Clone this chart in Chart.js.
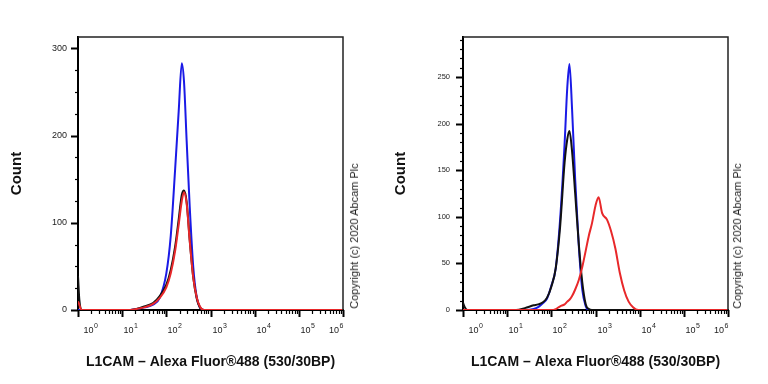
<!DOCTYPE html>
<html>
<head>
<meta charset="utf-8">
<script src="https://cdn.jsdelivr.net/npm/chart.js@4.4.1/dist/chart.umd.min.js"></script>
<style>
  html, body { margin: 0; padding: 0; background: #fff; }
  #wrap { position: relative; width: 768px; height: 384px; overflow: hidden; }
  .panel { position: absolute; top: 0; width: 384px; height: 384px; }
  .copy {
    position: absolute;
    font: 11px "Liberation Sans", Arial, sans-serif;
    color: #222;
    white-space: nowrap;
    transform: translate(-50%, -50%) rotate(-90deg);
  }
</style>
</head>
<body>
<div id="wrap">
  <div class="panel" style="left:0"><canvas id="leftChart" width="384" height="384"></canvas></div>
  <div class="panel" style="left:384px"><canvas id="rightChart" width="384" height="384"></canvas></div>
  <div class="copy" style="left:354px; top:236px">Copyright (c) 2020 Abcam Plc</div>
  <div class="copy" style="left:737px; top:236px">Copyright (c) 2020 Abcam Plc</div>
</div>
<script>
// x positions are given in decades (log10 of the fluorescence value)
const leftDecades = [0, 0.03, 0.08, 0.15, 1.1, 1.3, 1.5, 1.7, 1.85, 2.0, 2.1, 2.2, 2.28, 2.35, 2.4, 2.46, 2.53, 2.61, 2.69, 2.76, 2.85, 3.0, 6.0];
const leftBlue  = [0, 0, 0, 0, 0, 1, 3, 6, 14, 42, 85, 162, 228, 283, 262, 194, 118, 49, 14, 3, 0, 0, 0];
const leftRed   = [10, 6, 0, 0, 0, 1, 3, 7, 14, 26, 42, 68, 98, 125, 135, 122, 79, 37, 14, 4, 0, 0, 0];
const leftBlack = [39, 12, 0, 0, 0, 1, 4, 8, 16, 29, 46, 73, 104, 132, 137, 124, 80, 37, 13, 3, 0, 0, 0];

const rightDecades = [0, 0.04, 0.1, 1.2, 1.4, 1.6, 1.7, 1.8, 1.9, 2.0, 2.1, 2.2, 2.3, 2.36, 2.41, 2.47, 2.54, 2.62, 2.7, 2.78, 2.85, 2.92, 3.0, 3.07, 3.15, 3.26, 3.35, 3.45, 3.55, 3.65, 3.75, 3.85, 3.97, 4.1, 6.0];
const rightBlue  = [0, 0, 0, 0, 0, 1, 3, 7, 12, 26, 45, 98, 178, 238, 264, 215, 140, 70, 22, 4, 0, 0, 0, 0, 0, 0, 0, 0, 0, 0, 0, 0, 0, 0, 0];
const rightBlack = [8, 3, 0, 0, 2, 5, 6, 8, 13, 25, 45, 90, 158, 183, 192, 170, 125, 72, 30, 6, 1, 0, 0, 0, 0, 0, 0, 0, 0, 0, 0, 0, 0, 0, 0];
const rightRed   = [0, 0, 0, 0, 0, 0, 0, 0, 0, 0, 1, 4, 6, 9, 11, 15, 22, 32, 46, 64, 80, 93, 112, 121, 104, 97, 85, 66, 40, 21, 9, 3, 0, 0, 0];

// decade tick labels: base "10" with the exponent as a superscript
const decadeExponents = ['0', '1', '2', '3', '4', '5', '6'];
const leftYLabels = [0, 100, 200, 300];
const rightYLabels = [0, 50, 100, 150, 200, 250];

const xTitle = 'L1CAM \u2013 Alexa Fluor\u00ae488 (530/30BP)';
const yTitle = 'Count';
const FONT = '"Liberation Sans", Arial, sans-serif';
const BLUE = '#1a1ae6';
const RED = '#e8282a';
const BLACK = '#111111';

function points(decades, counts) {
  return decades.map((d, i) => ({ x: Math.pow(10, d), y: counts[i] }));
}

function decadeOf(value) {
  const d = Math.log10(value);
  return Math.abs(d - Math.round(d)) < 1e-9 ? Math.round(d) : -1;
}

// top/right frame, major and minor tick marks, decade labels with superscripts
const frameAndTicks = {
  id: 'frameAndTicks',
  afterDraw(chart) {
    const { ctx, chartArea: a, scales } = chart;
    ctx.save();
    ctx.strokeStyle = '#222';
    ctx.lineWidth = 1.5;
    ctx.beginPath();
    ctx.moveTo(a.left, a.top);
    ctx.lineTo(a.right, a.top);
    ctx.lineTo(a.right, a.bottom);
    ctx.stroke();

    ctx.strokeStyle = '#000';
    scales.y.ticks.forEach((t) => {
      const y = Math.round(scales.y.getPixelForValue(t.value)) + 0.5;
      const major = t.label !== '';
      ctx.lineWidth = major ? 2 : 1.2;
      ctx.beginPath();
      ctx.moveTo(a.left - (major ? 7 : 3), y);
      ctx.lineTo(a.left, y);
      ctx.stroke();
    });
    scales.x.ticks.forEach((t) => {
      const x = Math.round(scales.x.getPixelForValue(t.value)) + 0.5;
      const d = decadeOf(t.value);
      const major = d >= 0;
      ctx.lineWidth = major ? 2 : 1.2;
      ctx.beginPath();
      ctx.moveTo(x, a.bottom);
      ctx.lineTo(x, a.bottom + (major ? 7 : 4));
      ctx.stroke();
      if (!major) return;
      ctx.fillStyle = '#222';
      ctx.textBaseline = 'alphabetic';
      ctx.textAlign = 'left';
      ctx.font = '9px ' + FONT;
      const baseW = ctx.measureText('10').width;
      ctx.font = '7px ' + FONT;
      const expW = ctx.measureText(decadeExponents[d]).width;
      let startX = x + 1;
      if (d === 0) startX = x + 5;
      if (d === 6) startX = x - baseW - expW - 0.5;
      ctx.font = '9px ' + FONT;
      ctx.fillText('10', startX, a.bottom + 23);
      ctx.font = '7px ' + FONT;
      ctx.fillText(decadeExponents[d], startX + baseW + 0.5, a.bottom + 18);
    });
    ctx.restore();
  }
};

function makeChart(id, opts) {
  const line = (label, data, color) => ({
    label: label,
    data: data,
    borderColor: color,
    borderWidth: 2,
    pointRadius: 0,
    fill: false,
    cubicInterpolationMode: 'monotone'
  });
  return new Chart(document.getElementById(id), {
    type: 'line',
    data: {
      datasets: [
        line('red', points(opts.decades, opts.red), RED),
        line('black', points(opts.decades, opts.black), BLACK),
        line('blue', points(opts.decades, opts.blue), BLUE)
      ]
    },
    options: {
      responsive: false,
      animation: false,
      devicePixelRatio: 1,
      layout: { padding: { top: 37, right: opts.padRight, bottom: 0, left: 0 } },
      plugins: { legend: { display: false }, tooltip: { enabled: false } },
      scales: {
        x: {
          type: 'logarithmic',
          min: 1,
          max: 1e6,
          border: { display: true, color: '#000', width: 2 },
          grid: { display: false, drawTicks: true, tickLength: 7 },
          afterBuildTicks(scale) {
            const ticks = [];
            for (let k = 0; k < 6; k++) {
              for (let m = 1; m < 10; m++) ticks.push({ value: m * Math.pow(10, k) });
            }
            ticks.push({ value: 1e6 });
            scale.ticks = ticks;
          },
          ticks: {
            autoSkip: false,
            maxRotation: 0,
            callback: () => ''
          },
          title: {
            display: true,
            text: xTitle,
            color: '#111',
            font: { family: FONT, size: 14, weight: 'bold' },
            padding: { top: 0, bottom: 13 }
          },
          afterFit(scale) { scale.height = 74; }
        },
        y: {
          min: 0,
          max: opts.yMax,
          border: { display: true, color: '#000', width: 2 },
          grid: { display: false, drawTicks: true, tickLength: 7 },
          afterBuildTicks(scale) {
            const ticks = [];
            for (let v = 0; v <= opts.yMax; v += opts.minorStep) ticks.push({ value: v });
            scale.ticks = ticks;
          },
          ticks: {
            autoSkip: false,
            padding: opts.yPad,
            color: '#222',
            font: { family: FONT, size: opts.yFont },
            callback: (value) => (opts.yLabels.includes(value) ? String(value) : '')
          },
          title: {
            display: true,
            text: yTitle,
            color: '#111',
            font: { family: FONT, size: 15, weight: 'bold' },
            padding: { top: 8, bottom: 0 }
          },
          afterFit(scale) { scale.width = opts.yWidth; }
        }
      }
    },
    plugins: [frameAndTicks]
  });
}

makeChart('leftChart', {
  decades: leftDecades, blue: leftBlue, red: leftRed, black: leftBlack,
  yMax: 313, minorStep: 25, yLabels: leftYLabels, yFont: 9, yPad: 4,
  yWidth: 78, padRight: 41
});

makeChart('rightChart', {
  decades: rightDecades, blue: rightBlue, red: rightRed, black: rightBlack,
  yMax: 293, minorStep: 10, yLabels: rightYLabels, yFont: 7.5, yPad: 6,
  yWidth: 79, padRight: 40
});
</script>
</body>
</html>
